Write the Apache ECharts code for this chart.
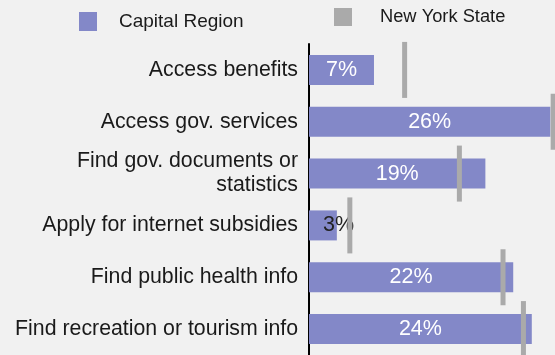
<!DOCTYPE html>
<html>
<head>
<meta charset="utf-8">
<script src="https://cdn.jsdelivr.net/npm/echarts@6/dist/echarts.min.js"></script>
<style>
  html, body { margin: 0; padding: 0; background: #f1f1f1; }
  #chart { width: 555px; height: 355px; }
</style>
</head>
<body>
<div id="chart"></div>
<script>
// Online activities: share of residents, Capital Region vs. New York State
const categories = [
  'Access benefits',
  'Access gov. services',
  'Find gov. documents or\nstatistics',
  'Apply for internet subsidies',
  'Find public health info',
  'Find recreation or tourism info'
];
const capitalRegion = [7, 26, 19, 3, 22, 24];
const newYorkState = [10.3, 26.3, 16.2, 4.4, 20.9, 23.1];
const seriesNames = ['Capital Region', 'New York State'];

const FONT = '"Liberation Sans", Arial, sans-serif';
const BAR_COLOR = '#8388c8';
const NYS_COLOR = '#aaaaaa';

// Short bars cannot hold their label, so it sits dark past the bar's left edge.
const barData = capitalRegion.map(v => v < 5
  ? { value: v, label: { position: 'insideLeft', distance: 14, color: '#222222' } }
  : v);

const legendBase = {
  icon: 'rect',
  padding: 0,
  itemWidth: 18,
  textStyle: { color: '#1a1a1a', fontFamily: FONT }
};

const chart = echarts.init(document.getElementById('chart'), null, { renderer: 'canvas' });
chart.setOption({
  backgroundColor: '#f1f1f1',
  animation: false,
  textStyle: { fontFamily: FONT },
  legend: [
    Object.assign({}, legendBase, {
      left: 79, top: 12, itemHeight: 19,
      textStyle: Object.assign({}, legendBase.textStyle, { fontSize: 19, padding: [0, 0, 0, 17] }),
      data: [seriesNames[0]]
    }),
    Object.assign({}, legendBase, {
      left: 334, top: 8, itemHeight: 18,
      textStyle: Object.assign({}, legendBase.textStyle, { fontSize: 18.3, padding: [0, 0, 0, 23] }),
      data: [seriesNames[1]]
    })
  ],
  grid: { left: 309, right: 0, top: 44, height: 312, containLabel: false },
  xAxis: {
    type: 'value',
    min: 0,
    max: 26.5,
    show: false
  },
  yAxis: {
    type: 'category',
    inverse: true,
    data: categories,
    axisLine: { show: true, lineStyle: { color: '#000000', width: 2 } },
    axisTick: { show: false },
    axisLabel: {
      margin: 11,
      fontSize: 21.3,
      lineHeight: 24,
      color: '#1a1a1a',
      fontFamily: FONT,
      align: 'right'
    }
  },
  series: [
    {
      name: seriesNames[0],
      type: 'bar',
      data: barData,
      barWidth: 30,
      itemStyle: { color: BAR_COLOR },
      label: {
        show: true,
        position: 'inside',
        color: '#ffffff',
        fontSize: 21.5,
        fontFamily: FONT,
        formatter: p => p.value + '%'
      },
      z: 2
    },
    {
      name: seriesNames[1],
      type: 'scatter',
      data: newYorkState,
      symbol: 'rect',
      symbolSize: [5, 56],
      itemStyle: { color: NYS_COLOR, opacity: 1 },
      z: 3
    }
  ]
});
</script>
</body>
</html>
